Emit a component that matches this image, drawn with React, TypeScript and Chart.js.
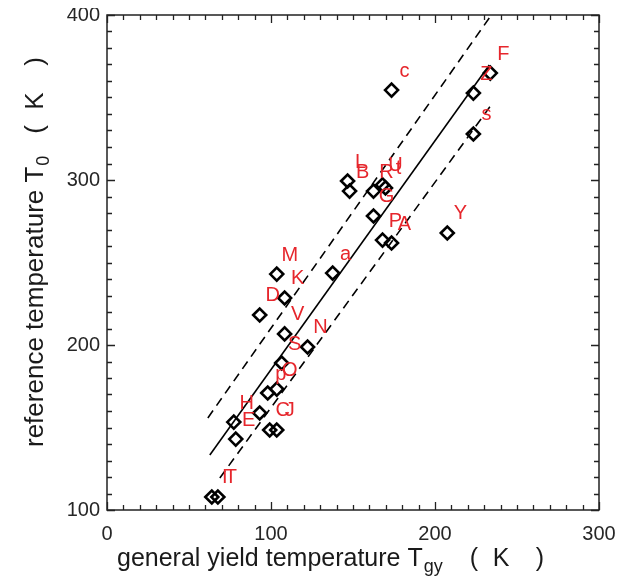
import { useEffect, useRef } from "react";
import { Chart, registerables } from "chart.js";
Chart.register(...registerables);

const FONT = '"Liberation Sans", Arial, Helvetica, sans-serif';

// material labels, general yield temperature Tgy (K), reference temperature T0 (K)
const pointLabels = ["I", "T", "H", "E", "", "p", "O", "C", "J", "S", "V", "D", "K", "M", "N", "a", "L", "B", "R", "U", "t", "G", "P", "A", "c", "Z", "F", "s", "Y"];
const tgyValues = [63.9, 67.6, 77.3, 78.5, 93.1, 98.0, 103.5, 99.2, 103.5, 106.5, 108.3, 93.1, 108.3, 103.5, 122.3, 137.6, 146.7, 147.9, 162.5, 168.0, 169.8, 162.5, 168.0, 173.5, 173.5, 223.4, 233.7, 223.4, 207.5];
const t0Values = [107.9, 107.9, 153.3, 143.0, 158.8, 170.9, 173.3, 148.5, 148.5, 189.1, 206.7, 218.2, 228.5, 243.0, 198.8, 243.6, 299.4, 293.3, 293.3, 297.0, 295.2, 278.2, 263.6, 261.8, 354.5, 352.7, 364.8, 327.9, 267.9];

// regression line and bounds (end points)
const fitX = [62.7, 233.1];
const fitY = [133.3, 369.7];
const upperX = [61.5, 233.1];
const upperY = [155.8, 398.2];
const lowerX = [68.8, 234.3];
const lowerY = [119.4, 345.5];

const xTickValues = [0, 100, 200, 300];
const yTickValues = [100, 200, 300, 400];
const minorStep = 10;

const xTitleMain = "general yield temperature T";
const xTitleSub = "gy";
const yTitleMain = "reference temperature T";
const yTitleSub = "0";
const unitParts = ["(", "K", ")"];

const framePlugin = {
  id: "frame",
  afterDraw(chart: any) {
    const { ctx, chartArea: a, scales } = chart;
    const xs = scales.x, ys = scales.y;
    ctx.save();
    ctx.strokeStyle = "#222";
    ctx.lineWidth = 1.5;
    ctx.strokeRect(a.left, a.top, a.right - a.left, a.bottom - a.top);
    ctx.lineWidth = 1.3;
    ctx.beginPath();
    for (let v = xs.min; v <= xs.max + 0.001; v += minorStep) {
      const len = xTickValues.includes(Math.round(v)) ? 8 : 5;
      const px = Math.round(xs.getPixelForValue(v)) + 0.5;
      ctx.moveTo(px, a.bottom); ctx.lineTo(px, a.bottom - len);
      ctx.moveTo(px, a.top); ctx.lineTo(px, a.top + len);
    }
    for (let v = ys.min; v <= ys.max + 0.001; v += minorStep) {
      const len = yTickValues.includes(Math.round(v)) ? 8 : 5;
      const py = Math.round(ys.getPixelForValue(v)) + 0.5;
      ctx.moveTo(a.left, py); ctx.lineTo(a.left + len, py);
      ctx.moveTo(a.right, py); ctx.lineTo(a.right - len, py);
    }
    ctx.stroke();
    ctx.restore();
  },
};

const labelPlugin = {
  id: "pointLabels",
  afterDatasetsDraw(chart: any) {
    const { ctx } = chart;
    const meta = chart.getDatasetMeta(0);
    ctx.save();
    ctx.fillStyle = "#e6262c";
    ctx.font = `20px ${FONT}`;
    ctx.textAlign = "center";
    ctx.textBaseline = "middle";
    meta.data.forEach((el: any, i: number) => {
      const t = pointLabels[i];
      if (!t) return;
      ctx.fillText(t, el.x + 13, el.y - 19);
    });
    ctx.restore();
  },
};

const titlePlugin = {
  id: "axisTitles",
  afterDraw(chart: any) {
    const { ctx } = chart;
    ctx.save();
    ctx.fillStyle = "#1a1a1a";
    ctx.textAlign = "left";
    ctx.textBaseline = "alphabetic";
    // x title
    let x = 109;
    const y = 566;
    ctx.font = `25px ${FONT}`;
    ctx.fillText(xTitleMain, x, y);
    x += ctx.measureText(xTitleMain).width + 1;
    ctx.font = `18px ${FONT}`;
    ctx.fillText(xTitleSub, x, y + 6);
    x += ctx.measureText(xTitleSub).width;
    ctx.font = `25px ${FONT}`;
    ctx.fillText(unitParts[0], x + 27, y);
    ctx.fillText(unitParts[1], x + 50, y);
    ctx.fillText(unitParts[2], x + 93, y);
    // y title
    ctx.translate(35, 447);
    ctx.rotate(-Math.PI / 2);
    let t = 0;
    ctx.font = `26px ${FONT}`;
    ctx.fillText(yTitleMain, t, 0);
    t += ctx.measureText(yTitleMain).width + 1;
    ctx.font = `18px ${FONT}`;
    ctx.fillText(yTitleSub, t, 6);
    t += ctx.measureText(yTitleSub).width;
    ctx.font = `26px ${FONT}`;
    ctx.fillText(unitParts[0], t + 22, 0);
    ctx.fillText(unitParts[1], t + 46, 0);
    ctx.fillText(unitParts[2], t + 90, 0);
    ctx.restore();
  },
};

export default function App() {
  const ref = useRef<HTMLCanvasElement | null>(null);
  useEffect(() => {
    if (!ref.current) return;
    const pts = tgyValues.map((v, i) => ({ x: v, y: t0Values[i] }));
    const line = (xs: number[], ys: number[]) => xs.map((v, i) => ({ x: v, y: ys[i] }));
    const chart = new Chart(ref.current, {
      type: "scatter",
      data: {
        datasets: [
          {
            data: pts,
            pointStyle: "rectRot",
            pointRadius: 6.5,
            pointBorderWidth: 2.6,
            borderColor: "#000",
            backgroundColor: "rgba(0,0,0,0)",
            order: 0,
          } as any,
          {
            data: line(fitX, fitY),
            showLine: true,
            pointRadius: 0,
            borderColor: "#000",
            borderWidth: 1.6,
            order: 1,
          },
          {
            data: line(upperX, upperY),
            showLine: true,
            pointRadius: 0,
            borderColor: "#000",
            borderWidth: 1.6,
            borderDash: [9, 6],
            order: 1,
          },
          {
            data: line(lowerX, lowerY),
            showLine: true,
            pointRadius: 0,
            borderColor: "#000",
            borderWidth: 1.6,
            borderDash: [9, 6],
            order: 1,
          },
        ],
      },
      options: {
        animation: false,
        responsive: true,
        maintainAspectRatio: false,
        layout: { padding: { top: 15, right: 24, left: 0, bottom: 0 } },
        plugins: { legend: { display: false }, tooltip: { enabled: false } },
        scales: {
          x: {
            type: "linear",
            min: 0,
            max: 300,
            afterBuildTicks: (s: any) => { s.ticks = xTickValues.map((v) => ({ value: v })); },
            afterFit: (s: any) => { s.height = 71; s.paddingLeft = 0; s.paddingRight = 0; },
            grid: { display: false, drawTicks: false },
            border: { display: false },
            ticks: { color: "#262626", font: { family: FONT, size: 20 }, padding: 12, maxRotation: 0 },
          },
          y: {
            type: "linear",
            min: 100,
            max: 400,
            afterBuildTicks: (s: any) => { s.ticks = yTickValues.map((v) => ({ value: v })); },
            afterFit: (s: any) => { s.width = 99; s.paddingTop = 0; s.paddingBottom = 0; },
            grid: { display: false, drawTicks: false },
            border: { display: false },
            ticks: { color: "#262626", font: { family: FONT, size: 20 }, padding: 7 },
          },
        },
      },
      plugins: [framePlugin, labelPlugin, titlePlugin],
    });
    return () => chart.destroy();
  }, []);
  return (
    <div style={{ width: 615, height: 581, position: "relative", marginTop: -8 }}>
      <canvas ref={ref} />
    </div>
  );
}
